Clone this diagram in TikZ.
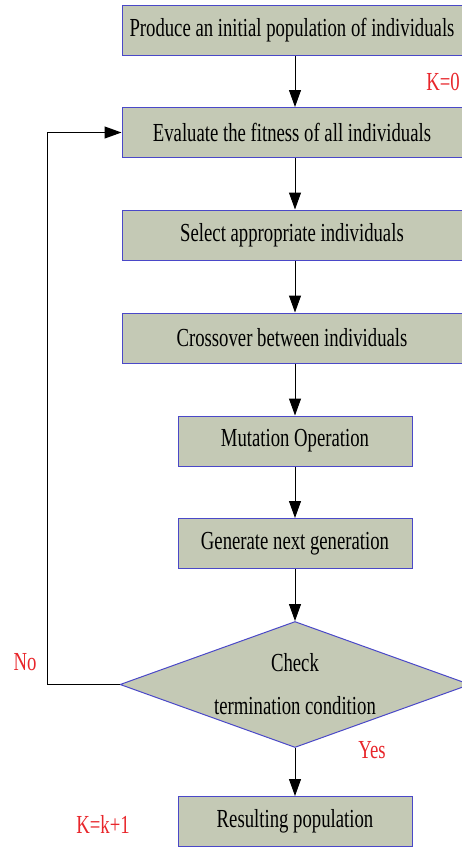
\documentclass[tikz,border=0pt]{standalone}
\usepackage{fontspec}
\setmainfont{Liberation Serif}[FakeStretch=0.72]
\usetikzlibrary{arrows.meta,shapes.geometric}
\definecolor{boxfill}{HTML}{C4C9B5}
\definecolor{boxline}{HTML}{4A48C8}
\definecolor{note}{HTML}{E8262B}

\begin{document}
\begin{tikzpicture}[x=1pt,y=-1pt,>={Triangle[length=17pt,width=12pt]},
  stage/.style={draw=boxline,fill=boxfill,line width=1pt,minimum height=50pt,inner sep=0pt,font=\fontsize{26}{30}\selectfont},
  wide/.style={stage,minimum width=340pt},
  narrow/.style={stage,minimum width=234pt},
  decision/.style={stage,diamond,aspect=2.78,minimum width=350pt,minimum height=126pt,align=center,font=\fontsize{26}{43}\selectfont},
  note/.style={text=note,font=\fontsize{26}{30}\selectfont},
  flow/.style={->,line width=1pt}]
\useasboundingbox (0,0) rectangle (462,847);
% steps of the loop
\node[wide] (init) at (292,30.5) {Produce an initial population of individuals};
\node[wide] (eval) at (292,132.5) {Evaluate the fitness of all individuals};
\node[wide] (sel) at (292,235) {Select appropriate individuals};
\node[wide] (cross) at (292,338) {Crossover between individuals};
\node[narrow] (mut) at (295,441) {Mutation Operation};
\node[narrow] (gen) at (295,543.5) {Generate next generation};
\node[decision] (check) at (295,684.5) {Check\\termination condition};
\node[narrow] (res) at (295,821.5) {Resulting population};
% connectors
\draw[flow] (init.south -| check.north) -- (eval.north -| check.north);
\draw[flow] (eval.south -| check.north) -- (sel.north -| check.north);
\draw[flow] (sel.south -| check.north) -- (cross.north -| check.north);
\draw[flow] (cross.south -| check.north) -- (mut.north);
\draw[flow] (mut) -- (gen);
\draw[flow] (gen) -- (check);
\draw[flow] (check) -- (res);
\draw[flow] (check.west) -- ++(-72,0) |- (eval.west);
% red notes
\node[note] (kzero) at (443,82) {K=0};
\node[note] (no) at (25,662) {No};
\node[note] (yes) at (372,750) {Yes};
\node[note] (knext) at (103,824) {K=k+1};
\end{tikzpicture}
\end{document}
